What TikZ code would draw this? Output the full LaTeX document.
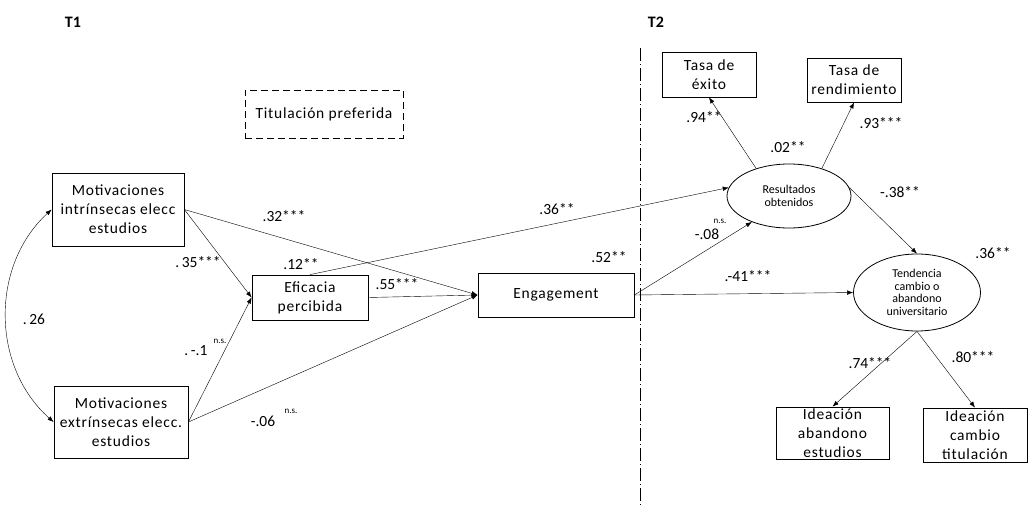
\documentclass[tikz,border=0pt]{standalone}
\usepackage{fontspec}
\setmainfont{Carlito}
\newfontfamily\boxfont[LetterSpace=5]{Carlito}
\usetikzlibrary{arrows.meta,shapes.geometric,positioning}

\begin{document}
\begin{tikzpicture}[x=1pt,y=-1pt]
                    \tikzstyle{every node}+=[inner sep=0pt]
                    \tikzstyle{obsbox}=[draw, rectangle, line width=0.8pt, align=center, font=\fontsize{15.5}{19}\boxfont]
                    \tikzstyle{latent}=[draw, ellipse, line width=0.8pt, align=center, font=\fontsize{12}{12.5}\selectfont]
                    \tikzstyle{pathln}=[-{Latex[length=6pt,width=4.5pt]}, line width=0.4pt]
                    \tikzstyle{coef}=[font=\fontsize{15.5}{18}\selectfont]
                    \tikzstyle{nslab}=[font=\fontsize{9}{10}\selectfont]
                    \useasboundingbox (0,0) rectangle (1031,506);
                    % time labels and divider
                    \node [font=\fontsize{16}{18}\bfseries] (tone) at (73,22) {T1};
                    \node [font=\fontsize{16}{18}\bfseries] (ttwo) at (656,22) {T2};
                    \coordinate (divtop) at (640,48);
                    \coordinate (divbot) at (640,506);
                    \draw [line width=0.6pt, dash pattern=on 13pt off 3pt on 1pt off 3pt] (divtop) -- (divbot);
                    % T1 variables
                    \node [draw, dashed, dash pattern=on 7pt off 4pt, line width=0.8pt, minimum width=158, minimum height=48, font=\fontsize{15.5}{19}\boxfont] (titpref) at (324,114) {Titulación preferida};
                    \node [obsbox, minimum width=132, minimum height=73] (motint) at (118,209.5) {Motivaciones\\intrínsecas elecc\\estudios};
                    \node [obsbox, minimum width=134, minimum height=72] (motext) at (121,422) {Motivaciones\\extrínsecas elecc.\\estudios};
                    \node [obsbox, minimum width=116, minimum height=45] (eficacia) at (310,297.5) {Eficacia\\percibida};
                    \node [obsbox, minimum width=156, minimum height=44] (engage) at (556,295) {Engagement};
                    % T2 variables
                    \node [obsbox, minimum width=94, minimum height=45] (exito) at (709,74.5) {Tasa de\\éxito};
                    \node [obsbox, minimum width=94, minimum height=44] (rendim) at (854,80) {Tasa de\\rendimiento};
                    \node [latent, minimum width=124, minimum height=64] (result) at (789,196) {Resultados\\obtenidos};
                    \node [latent, minimum width=127, minimum height=77] (tenden) at (917,292.5) {Tendencia\\cambio o\\abandono\\universitario};
                    \node [obsbox, minimum width=113, minimum height=52] (idabandono) at (832.5,433) {Ideación\\abandono\\estudios};
                    \node [obsbox, minimum width=104, minimum height=54] (idcambio) at (975,435) {Ideación\\cambio\\titulación};
                    % paths
                    \draw [{Latex[length=6pt,width=4.5pt]}-{Latex[length=6pt,width=4.5pt]}, line width=0.4pt] (motint.west) to [bend right=48] (motext.west);
                    \draw [pathln] (motint.east) -- (eficacia.west);
                    \draw [pathln] (motint.east) -- (engage.west);
                    \draw [pathln] (motext.east) -- (eficacia.west);
                    \draw [pathln] (motext.east) -- (engage.west);
                    \draw [pathln] (eficacia.east) -- (engage.west);
                    \draw [pathln] (eficacia.north) -- (result.172);
                    \draw [pathln] (engage.east) -- (result.215);
                    \draw [pathln] (engage.east) -- (tenden.west);
                    \draw [pathln] (result.140) -- (exito.south);
                    \draw [pathln] (result.40) -- (rendim.south);
                    \draw [pathln] (result.8) -- (tenden.north);
                    \draw [pathln] (tenden.south) -- (idabandono.north);
                    \draw [pathln] (tenden.south) -- (idcambio.north);
                    % coefficients
                    \node [coef] (ctwosix) at (34,319) {.\,26};
                    \node [coef] (cthreetwo) at (284,216) {.32***};
                    \node [coef] (cthreefive) at (198,262) {.\,35***};
                    \node [coef] (conetwo) at (301,264) {.12**};
                    \node [coef] (cfivefive) at (397,284) {.55***};
                    \node [coef] (cmone) at (196,351) {.\,-.1};
                    \node [nslab] (nsone) at (220,341) {n.s.};
                    \node [coef] (czerosix) at (263,421) {-.06};
                    \node [nslab] (nssix) at (291,411) {n.s.};
                    \node [coef] (cthreesix) at (557,209) {.36**};
                    \node [coef] (cfivetwo) at (609,257) {.52**};
                    \node [coef] (czeroeight) at (707,234) {-.08};
                    \node [nslab] (nseight) at (720,221) {n.s.};
                    \node [coef] (cfourone) at (748,276) {.-41***};
                    \node [coef] (cninefour) at (704,117) {.94**};
                    \node [coef] (czerotwo) at (788,147) {.02**};
                    \node [coef] (cninethree) at (881,123) {.93***};
                    \node [coef] (cthreeeight) at (900,192) {-.38**};
                    \node [coef] (cthreesixb) at (993,253) {.36**};
                    \node [coef] (csevenfour) at (870,363) {.74***};
                    \node [coef] (ceightzero) at (973,357) {.80***};
\end{tikzpicture}
\end{document}
